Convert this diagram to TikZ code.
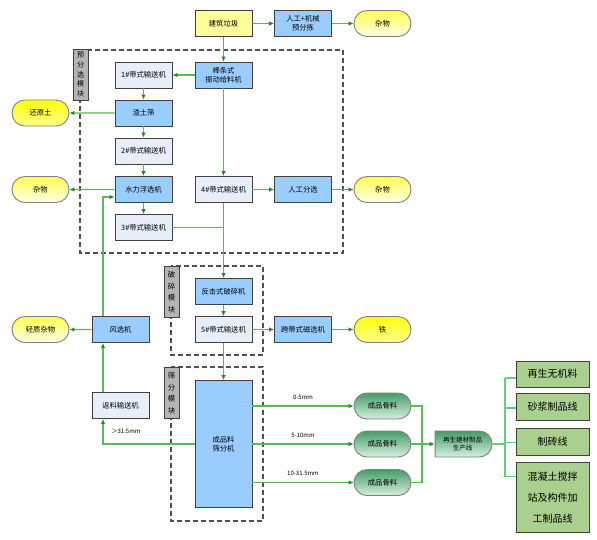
\documentclass[tikz,border=0pt]{standalone}
\usepackage{fontspec}
\setmainfont{Noto Sans CJK SC}
\usetikzlibrary{arrows.meta,shapes.misc,calc}
\definecolor{edge}{RGB}{64,64,64}
\definecolor{blueF}{RGB}{153,204,255}
\definecolor{lightF}{RGB}{232,238,248}
\definecolor{yelF}{RGB}{255,255,153}
\definecolor{lineG}{RGB}{90,185,90}
\definecolor{arrG}{RGB}{25,140,25}
\definecolor{busG}{RGB}{100,205,130}
\definecolor{tabF}{RGB}{180,180,180}
\definecolor{dashC}{RGB}{80,80,80}
\definecolor{rgF}{RGB}{169,208,142}
\definecolor{gTop}{RGB}{70,155,105}
\definecolor{gBot}{RGB}{215,240,222}
\begin{document}
\begin{tikzpicture}[x=1pt,y=-1pt,
  box/.style={draw=edge,line width=0.9pt,minimum width=57pt,minimum height=26pt,inner sep=0pt,align=center,font=\fontsize{7.3}{9.3}\selectfont},
  bluebox/.style={box,fill=blueF},
  lightbox/.style={box,fill=lightF},
  yelbox/.style={box,fill=yelF},
  termY/.style={box,draw=gray,rounded rectangle,top color=yellow!70,bottom color=yellow!8},
  termB/.style={box,draw=gray,rounded rectangle,top color=yellow!95,bottom color=yellow!45},
  termG/.style={box,draw=gray,rounded rectangle,top color=gTop,bottom color=gBot},
  rbox/.style={draw=edge,line width=0.9pt,fill=rgF,minimum width=73pt,inner sep=0pt,align=center,font=\fontsize{10}{21}\selectfont},
  tabbox/.style={draw=edge,line width=0.8pt,fill=tabF,minimum width=15pt,minimum height=51pt,inner sep=0pt,align=center},
  line/.style={draw=lineG,line width=1.1pt},
  conn/.style={line,-{Latex[length=5pt,width=4.5pt,color=arrG]}},
  bus/.style={draw=busG,line width=1.1pt},
  dashbox/.style={draw=dashC,line width=1.1pt,dash pattern=on 5pt off 3pt},
  lab/.style={font=\fontsize{6}{7}\selectfont,inner sep=0pt}]
\useasboundingbox[fill=white] (0,0) rectangle (597,539);
% dashed module frames
\draw[dashbox] (80,50) rectangle (343,253);
\draw[dashbox] (171,266) rectangle (263,355);
\draw[dashbox] (171,367) rectangle (263,521);
\node[tabbox,font=\fontsize{7}{9.6}\selectfont] (tab1) at (80.5,74.5) {预\\分\\选\\模\\块};
\node[tabbox,font=\fontsize{7.3}{11.5}\selectfont] (tab2) at (171.5,292) {破\\碎\\模\\块};
\node[tabbox,font=\fontsize{7.3}{11.5}\selectfont] (tab3) at (171.5,393) {筛\\分\\模\\块};
% nodes
\node[yelbox] (jz) at (223.5,23.5) {建筑垃圾};
\node[bluebox] (rg) at (303,23.5) {人工+机械\\预分拣};
\node[termY] (zw1) at (382.5,23.5) {杂物};
\node[bluebox] (bt) at (223.5,75) {棒条式\\振动给料机};
\node[lightbox] (c1) at (143.5,75) {1\#带式输送机};
\node[bluebox] (zts) at (143.5,113) {渣土筛};
\node[termB] (hyt) at (40.5,113) {还原土};
\node[lightbox] (c2) at (143.5,151) {2\#带式输送机};
\node[bluebox] (sl) at (143.5,189.5) {水力浮选机};
\node[termY] (zw2) at (40.5,189.5) {杂物};
\node[lightbox] (c4) at (223.5,189.5) {4\#带式输送机};
\node[bluebox] (rgfx) at (303,189.5) {人工分选};
\node[termY] (zw3) at (382.5,189.5) {杂物};
\node[lightbox] (c3) at (143.5,227.5) {3\#带式输送机};
\node[bluebox] (fj) at (223.5,291.5) {反击式破碎机};
\node[lightbox] (c5) at (223.5,329.5) {5\#带式输送机};
\node[bluebox] (cx) at (303,329.5) {跨带式磁选机};
\node[termB] (tie) at (382.5,329.5) {铁};
\node[bluebox] (fx) at (120.5,329.5) {风选机};
\node[termY] (qz) at (40.5,329.5) {轻质杂物};
\node[lightbox] (fl) at (120.5,405.5) {返料输送机};
\node[bluebox,minimum height=127pt] (sf) at (223.5,444) {成品料\\筛分机};
\node[termG] (gl1) at (382.5,406) {成品骨料};
\node[termG] (gl2) at (382.5,444) {成品骨料};
\node[termG] (gl3) at (382.5,482.5) {成品骨料};
\node[box,draw=gray,rounded rectangle,rounded rectangle left arc=none,font=\fontsize{6.5}{8.5}\selectfont,top color=gTop,bottom color=gBot] (zs) at (462.5,444) {再生建材制品\\生产线};
\node[rbox,minimum height=26pt] (r1) at (552.5,374) {再生无机料};
\node[rbox,minimum height=27pt] (r2) at (552.5,406.5) {砂浆制品线};
\node[rbox,minimum height=27pt] (r3) at (552.5,441.5) {制砖线};
\node[rbox,minimum height=70pt] (r4) at (552.5,497.5) {混凝土搅拌\\站及构件加\\工制品线};
% connectors
\draw[conn] (jz) -- (rg);
\draw[conn] (rg) -- (zw1);
\draw[conn] (jz) -- (bt);
\draw[conn] (bt) -- (c1);
\draw[conn] (c1) -- (zts);
\draw[conn] (zts) -- (hyt);
\draw[conn] (zts) -- (c2);
\draw[conn] (c2) -- (sl);
\draw[conn] (sl) -- (zw2);
\draw[conn] (sl) -- (c3);
\draw[conn] (bt) -- (c4);
\draw[conn] (c4) -- (rgfx);
\draw[conn] (rgfx) -- (zw3);
\draw[conn] (c4) -- (fj);
\draw[line] (c3.east) -- (c3.east -| c4.south);
\draw[conn] (fj) -- (c5);
\draw[conn] (c5) -- (cx);
\draw[conn] (cx) -- (tie);
\draw[conn] (c5) -- (sf);
\draw[conn] (sf.west) -| ([xshift=-17.5pt]fl.south);
\node[lab] (gt) at (126,431) {＞31.5mm};
\draw[conn] ([xshift=-17.5pt]fl.north) -- ([xshift=-17.5pt]fx.south);
\draw[conn] (fx) -- (qz);
\draw[conn] ([xshift=-17.5pt]fx.north) |- ([yshift=-7.5pt]sl.west);
\draw[conn] (sf.east |- gl1) -- (gl1.west) node[lab,midway,above=6pt] {0-5mm};
\draw[conn] (sf.east |- gl2) -- (gl2.west) node[lab,midway,above=6pt] {5-10mm};
\draw[conn] (sf.east |- gl3) -- (gl3.west) node[lab,midway,above=6pt] {10-31.5mm};
\coordinate (m) at (422,444);
\draw[line] (gl1.east) -| (m);
\draw[line] (gl3.east) -| (m);
\draw[conn] (gl2.east) -- (zs.west);
\coordinate (bt1) at (505,378);
\coordinate (bt2) at (505,408);
\coordinate (bt3) at (505,442.5);
\coordinate (bt4) at (505,476.5);
\draw[bus] (zs.east) -- (zs.east -| bt1);
\draw[bus] (bt1) -- (bt4);
\draw[bus] (bt1) -- (bt1 -| r1.west);
\draw[bus] (bt2) -- (bt2 -| r2.west);
\draw[bus] (bt3) -- (bt3 -| r3.west);
\draw[bus] (bt4) -- (bt4 -| r4.west);
\end{tikzpicture}
\end{document}
